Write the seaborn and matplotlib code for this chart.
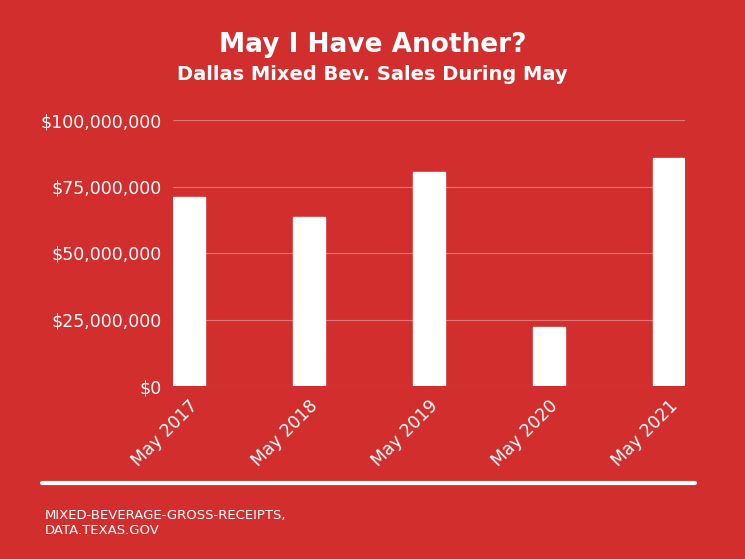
import matplotlib
matplotlib.use("Agg")
import matplotlib.pyplot as plt
import seaborn as sns
import pandas as pd

months = ["May 2017", "May 2018", "May 2019", "May 2020", "May 2021"]
sales = [71_000_000, 63_500_000, 80_500_000, 22_000_000, 85_700_000]
yticks = [0, 25_000_000, 50_000_000, 75_000_000, 100_000_000]
ytick_labels = ["$0", "$25,000,000", "$50,000,000", "$75,000,000", "$100,000,000"]

df = pd.DataFrame({"month": months, "sales": sales})

sns.set_theme(style="white")
bg = "#d22e2e"
W, H = 745, 559
fig = plt.figure(figsize=(W / 100, H / 100), dpi=100, facecolor=bg)
ax = fig.add_axes([173 / W, 1 - 386 / H, 512 / W, 266 / H])
ax.set_facecolor(bg)

sns.barplot(data=df, x="month", y="sales", color="white", width=0.267,
            saturation=1, ax=ax)
ax.set_xlim(-0.133, 4.133)
ax.set_ylim(0, 100_000_000)
ax.set_yticks(yticks)
ax.set_yticklabels(ytick_labels, color="white", fontsize=12.5)
ax.set_xticks(range(len(months)))
ax.set_xticklabels(months, rotation=45, ha="right", rotation_mode="anchor",
                   color="white", fontsize=12.5)
ax.tick_params(axis="both", length=0, pad=8)
ax.yaxis.grid(True, color="white", alpha=0.35, linewidth=0.8)
ax.set_axisbelow(True)
ax.set_xlabel("")
ax.set_ylabel("")
sns.despine(ax=ax, left=True, bottom=True)

fig.text(0.5, 1 - 45 / H, "May I Have Another?", ha="center", va="center",
         color="white", fontsize=19, fontweight="bold")
fig.text(0.5, 1 - 74 / H, "Dallas Mixed Bev. Sales During May", ha="center",
         va="center", color="white", fontsize=14, fontweight="bold")
fig.add_artist(plt.Line2D([42 / W, 695 / W], [1 - 483 / H, 1 - 483 / H],
                          color="white", linewidth=3, transform=fig.transFigure))
fig.text(45 / W, 1 - 515 / H, "MIXED-BEVERAGE-GROSS-RECEIPTS,", color="white",
         fontsize=9.5, va="center")
fig.text(45 / W, 1 - 531 / H, "DATA.TEXAS.GOV", color="white", fontsize=9.5,
         va="center")

fig.savefig("out.png", dpi=100, facecolor=bg)
